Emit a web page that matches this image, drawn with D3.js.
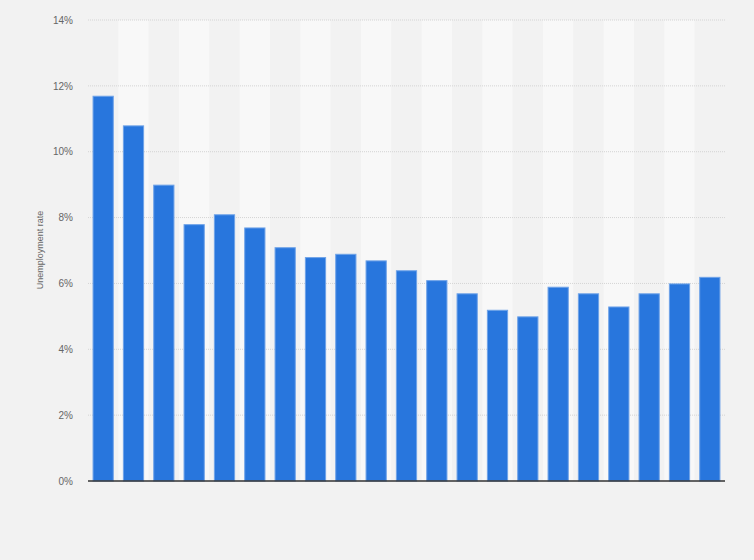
<!DOCTYPE html>
<html>
<head>
<meta charset="utf-8">
<script src="https://d3js.org/d3.v7.min.js"></script>
<style>
  body { margin: 0; background: #f2f2f2; }
  svg { display: block; font-family: "Liberation Sans", Arial, sans-serif; }
</style>
</head>
<body>
<svg id="chart" width="754" height="560"></svg>
<script>
// no category labels are shown in the picture, so these are just bar slots
const categories = ["1", "2", "3", "4", "5", "6", "7", "8", "9", "10", "11",
                    "12", "13", "14", "15", "16", "17", "18", "19", "20", "21"];
const rates = [11.7, 10.8, 9.0, 7.8, 8.1, 7.7, 7.1, 6.8, 6.9, 6.7, 6.4,
               6.1, 5.7, 5.2, 5.0, 5.9, 5.7, 5.3, 5.7, 6.0, 6.2];
const yTicks = [0, 2, 4, 6, 8, 10, 12, 14];

const margin = { top: 20, right: 29, bottom: 79, left: 88 };
const width = 754 - margin.left - margin.right;
const height = 560 - margin.top - margin.bottom;

const svg = d3.select("#chart");
svg.append("rect").attr("width", 754).attr("height", 560).attr("fill", "#f2f2f2");

const g = svg.append("g").attr("transform", `translate(${margin.left},${margin.top})`);

const x = d3.scaleBand().domain(categories).range([0, width]).paddingInner(0.3).paddingOuter(0.15);
const y = d3.scaleLinear().domain([0, 14]).range([height, 0]);

// alternating column bands
const step = x.step();
g.selectAll("rect.band")
  .data(categories)
  .enter().append("rect")
  .attr("class", "band")
  .attr("x", (d, i) => i * step)
  .attr("y", 0)
  .attr("width", step)
  .attr("height", height)
  .attr("fill", (d, i) => i % 2 ? "#f8f8f8" : "#f2f2f2");

// gridlines
g.selectAll("line.grid")
  .data(yTicks.filter(t => t > 0))
  .enter().append("line")
  .attr("class", "grid")
  .attr("x1", 0).attr("x2", width)
  .attr("y1", d => y(d)).attr("y2", d => y(d))
  .attr("stroke", "#d4d4d4")
  .attr("stroke-dasharray", "1,1");

// y axis labels
const yAxis = g.append("g")
  .call(d3.axisLeft(y).tickValues(yTicks).tickFormat(d => d + "%").tickSize(0).tickPadding(15));
yAxis.select(".domain").remove();
yAxis.selectAll("text").attr("fill", "#666").attr("font-size", "10px");

svg.append("text")
  .attr("transform", "translate(43,250) rotate(-90)")
  .attr("text-anchor", "middle")
  .attr("fill", "#666")
  .attr("font-size", "9px")
  .text("Unemployment rate");

// bars
g.selectAll("rect.bar")
  .data(rates)
  .enter().append("rect")
  .attr("class", "bar")
  .attr("x", (d, i) => x(categories[i]) + 0.5)
  .attr("y", d => y(d) + 0.5)
  .attr("width", x.bandwidth() - 1)
  .attr("height", d => height - y(d) - 0.5)
  .attr("fill", "#2876dd")
  .attr("stroke", "#6fa3e8")
  .attr("stroke-width", 1);

// baseline
g.append("line")
  .attr("x1", 0).attr("x2", width)
  .attr("y1", height).attr("y2", height)
  .attr("stroke", "#333")
  .attr("stroke-width", 1.5);
</script>
</body>
</html>
